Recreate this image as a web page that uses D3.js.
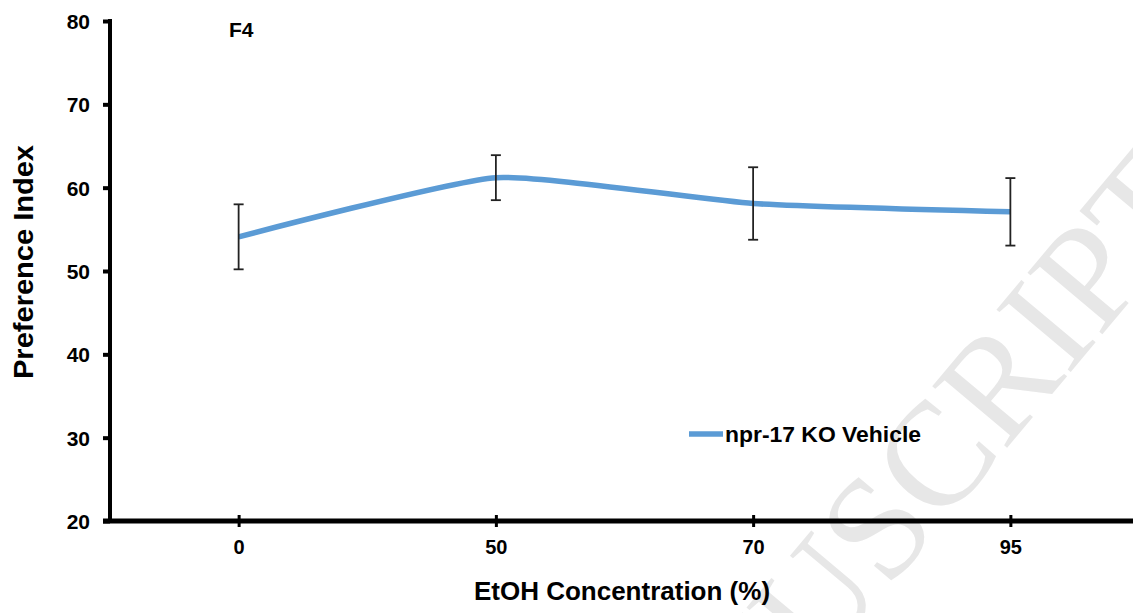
<!DOCTYPE html>
<html><head><meta charset="utf-8">
<script src="https://cdn.jsdelivr.net/npm/d3@7"></script>
<style>body{margin:0;background:#fff;}svg{display:block;font-family:"Liberation Sans",Arial,sans-serif;}</style>
</head><body><svg id="c" width="1133" height="613"></svg>
<script>
const categories = ["0","50","70","95"];
const values = [54.1, 61.2, 58.1, 57.1];
const errors = [3.9, 2.7, 4.35, 4.05];
const yTicks = [20,30,40,50,60,70,80];
const seriesName = "npr-17 KO Vehicle";
const FF = "Liberation Sans, Arial, sans-serif";

const svg = d3.select("#c");
// watermark
svg.append("text").attr("transform","translate(1210,206) rotate(-50)")
  .attr("text-anchor","end").attr("font-family","Liberation Serif, serif")
  .attr("font-size",148).attr("fill","#e7e7e7").text("ACCEPTED MANUSCRIPT");

const x = d3.scalePoint().domain(categories).range([110,1139]).padding(0.5);
const y = d3.scaleLinear().domain([20,80]).range([521,21]);

// y axis
const ya = svg.append("g").attr("transform","translate(110,0)")
  .call(d3.axisLeft(y).tickValues(yTicks).tickSize(7).tickPadding(13))
  .attr("font-family",FF);
ya.select(".domain").attr("stroke","#000").attr("stroke-width",4).attr("d","M0,19V523");
ya.selectAll(".tick line").attr("stroke","#000").attr("stroke-width",4);
ya.selectAll(".tick text").attr("font-size",21).attr("font-weight","bold").attr("fill","#000").attr("dy","0.36em");

// x axis
const xa = svg.append("g").attr("transform","translate(0,521)")
  .call(d3.axisBottom(x).tickSize(0).tickPadding(19))
  .attr("font-family",FF);
xa.select(".domain").attr("stroke","#000").attr("stroke-width",5).attr("d","M103,0H1133");
xa.selectAll(".tick").append("line").attr("y1",-6).attr("y2",6).attr("stroke","#000").attr("stroke-width",3);
xa.selectAll(".tick text").attr("font-size",20).attr("font-weight","bold").attr("fill","#000");

// line
const line = d3.line().x((d,i)=>x(categories[i])).y(d=>y(d)).curve(d3.curveCardinal.tension(0.5));
svg.append("path").datum(values).attr("d",line).attr("fill","none")
  .attr("stroke","#5b9bd5").attr("stroke-width",5.5);

// error bars
const eb = svg.append("g").attr("stroke","#222").attr("stroke-width",1.8);
values.forEach((v,i)=>{
  const cx = x(categories[i]);
  eb.append("line").attr("x1",cx).attr("x2",cx).attr("y1",y(v+errors[i])).attr("y2",y(v-errors[i]));
  [v+errors[i], v-errors[i]].forEach(e=>eb.append("line").attr("x1",cx-5).attr("x2",cx+5).attr("y1",y(e)).attr("y2",y(e)));
});

// legend
svg.append("line").attr("x1",689).attr("x2",723).attr("y1",434).attr("y2",434)
  .attr("stroke","#5b9bd5").attr("stroke-width",5.5);
svg.append("text").attr("x",725).attr("y",442).attr("font-size",22).attr("font-weight","bold")
  .attr("textLength",196).attr("lengthAdjust","spacingAndGlyphs").text(seriesName);

// labels
svg.append("text").attr("x",229).attr("y",37).attr("font-size",21).attr("font-weight","bold").text("F4");
svg.append("text").attr("transform","translate(33,262) rotate(-90)").attr("text-anchor","middle")
  .attr("font-size",28).attr("font-weight","bold")
  .attr("textLength",234).attr("lengthAdjust","spacingAndGlyphs").text("Preference Index");
svg.append("text").attr("x",622).attr("y",600).attr("text-anchor","middle")
  .attr("font-size",26).attr("font-weight","bold").text("EtOH Concentration (%)");
</script></body></html>
